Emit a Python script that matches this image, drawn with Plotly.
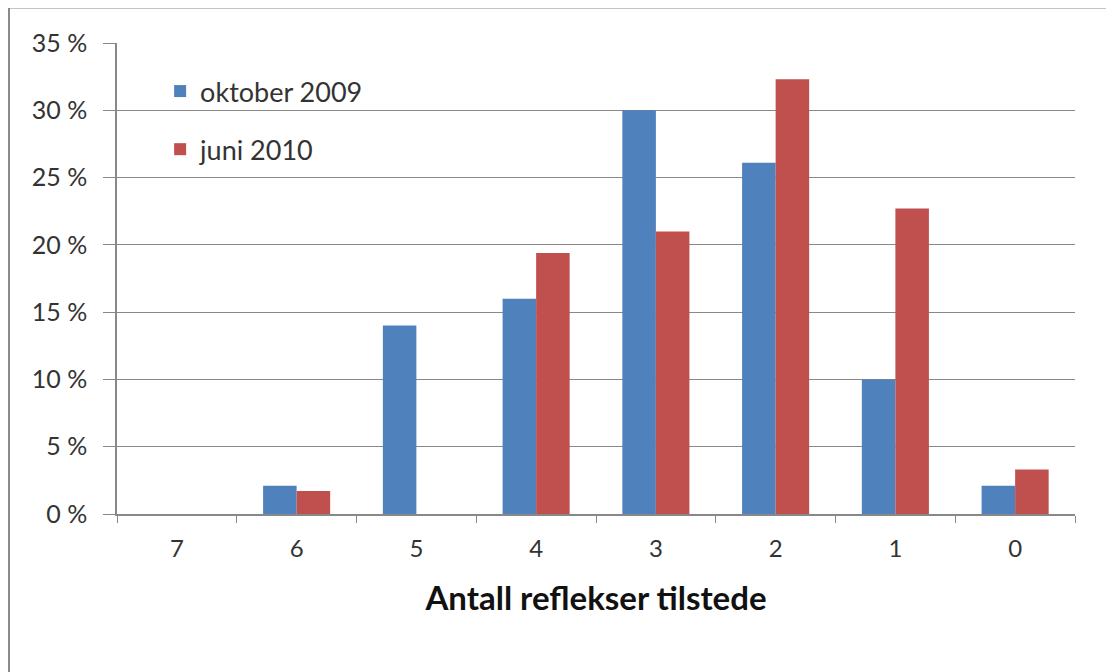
import plotly.graph_objects as go

categories = ["7", "6", "5", "4", "3", "2", "1", "0"]
oktober_2009 = [0, 2.1, 14.0, 16.0, 30.0, 26.1, 10.0, 2.1]
juni_2010 = [0, 1.7, 0, 19.4, 21.0, 32.3, 22.7, 3.3]
y_ticks = [0, 5, 10, 15, 20, 25, 30, 35]
y_tick_labels = ["0 %", "5 %", "10 %", "15 %", "20 %", "25 %", "30 %", "35 %"]

fig = go.Figure()
fig.add_trace(go.Bar(x=categories, y=oktober_2009, name="oktober 2009",
                     marker=dict(color="#4F81BD", line=dict(width=0)), legendgroup="a"))
fig.add_trace(go.Bar(x=categories, y=juni_2010, name="juni 2010",
                     marker=dict(color="#C0504D", line=dict(width=0)), legendgroup="b"))

font = "Lato, 'Open Sans', sans-serif"
fig.update_layout(
    width=1114, height=672,
    margin=dict(l=109, r=47, t=35, b=166),
    paper_bgcolor="white", plot_bgcolor="white",
    barmode="group", bargap=0.44, bargroupgap=0,
    font=dict(family=font, size=20, color="#333333"),
    showlegend=True,
    legend=dict(x=0.045, y=0.949, xanchor="left", yanchor="top",
                font=dict(size=27, color="#333333"), tracegroupgap=20,
                bgcolor="rgba(0,0,0,0)"),
    xaxis=dict(type="category", tickson="boundaries", ticks="outside", ticklen=7,
               tickcolor="#888888", showline=True, linecolor="#888888", linewidth=1.5,
               showgrid=False, tickfont=dict(size=24, color="#333333"),
               ticklabelstandoff=12,
               title=dict(text="<b>Antall reflekser tilstede</b>",
                          font=dict(size=33, color="#111111"), standoff=26)),
    yaxis=dict(range=[0, 35], tickvals=y_ticks, ticktext=y_tick_labels,
               ticks="outside", ticklen=12, tickcolor="#888888",
               showline=True, linecolor="#888888", linewidth=1.5,
               showgrid=True, gridcolor="#888888", gridwidth=1.2,
               ticklabelstandoff=11,
               zeroline=False, tickfont=dict(size=25, color="#333333")),
    shapes=[
        dict(type="line", xref="paper", yref="paper", x0=-0.113, x1=1.05, y0=1.076, y1=1.076,
             line=dict(color="#8a8a8a", width=2.5)),
        dict(type="line", xref="paper", yref="paper", x0=-0.113, x1=-0.113, y0=1.076, y1=-0.34,
             line=dict(color="#8a8a8a", width=2.5)),
    ],
)

fig.write_html("out.html")
